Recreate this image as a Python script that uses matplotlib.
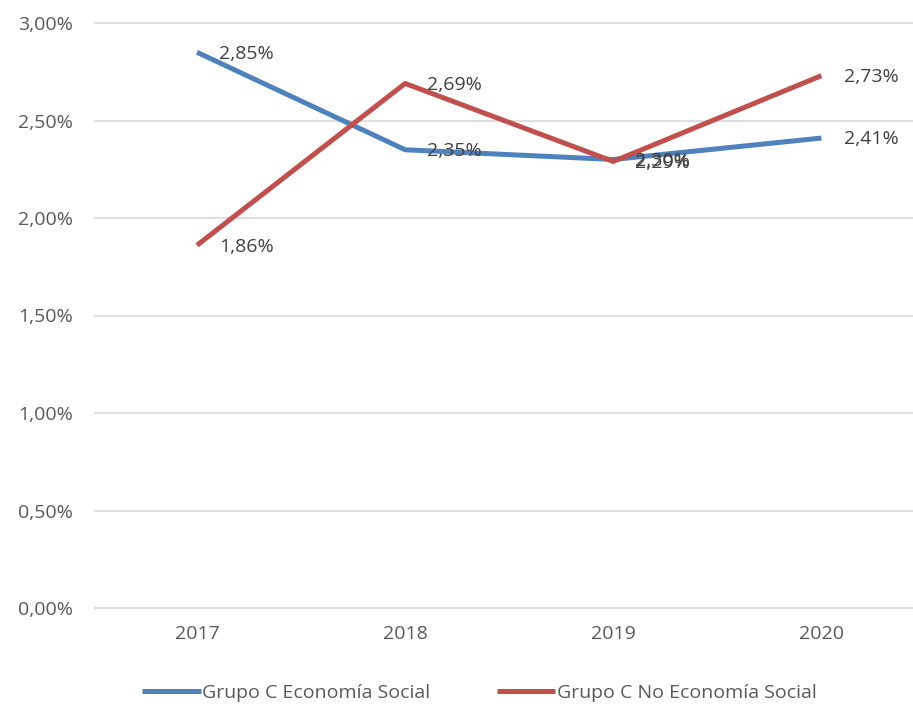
import matplotlib.pyplot as plt
from matplotlib.ticker import FuncFormatter, MultipleLocator

years = ["2017", "2018", "2019", "2020"]
social = [2.85, 2.35, 2.30, 2.41]
no_social = [1.86, 2.69, 2.29, 2.73]
names = ["Grupo C Economía Social", "Grupo C No Economía Social"]
colors = ["#4F81BD", "#C0504D"]

plt.rcParams['font.family'] = ['Open Sans', 'DejaVu Sans']
txt = "#595959"

fig = plt.figure(figsize=(9.13, 7.06), dpi=100)
ax = fig.add_axes([95/913, 98/706, 818/913, 585/706])

x = range(len(years))
for vals, name, c in zip([social, no_social], names, colors):
    ax.plot(x, vals, color=c, linewidth=3.6, label=name, solid_capstyle='butt', zorder=3)
    for xi, v in zip(x, vals):
        ax.annotate(f"{v:.2f}%".replace(".", ","), (xi, v), xytext=(16, -1),
                    textcoords='offset points', va='center', ha='left',
                    fontsize=14, color="#404040", zorder=4)

ax.set_xlim(-0.49, 3.44)
ax.set_ylim(0, 3.0)
ax.yaxis.set_major_locator(MultipleLocator(0.5))
ax.yaxis.set_major_formatter(FuncFormatter(lambda v, p: f"{v:.2f}%".replace(".", ",")))
ax.set_xticks(list(x))
ax.set_xticklabels(years)
ax.grid(axis='y', color="#D9D9D9", linewidth=1.2)
for gl in ax.get_ygridlines():
    gl.set_clip_on(False)
ax.set_axisbelow(True)
for s in ax.spines.values():
    s.set_visible(False)
ax.tick_params(length=0, labelsize=14, colors=txt)
ax.tick_params(axis='y', pad=16)
ax.tick_params(axis='x', pad=12)

ax.legend(loc='center', bbox_to_anchor=(0.47, -0.145), ncol=2, frameon=False,
          fontsize=14, labelcolor=txt, handlelength=3.0, handletextpad=0.1,
          columnspacing=3.4)

fig.savefig("out.png", dpi=100)
